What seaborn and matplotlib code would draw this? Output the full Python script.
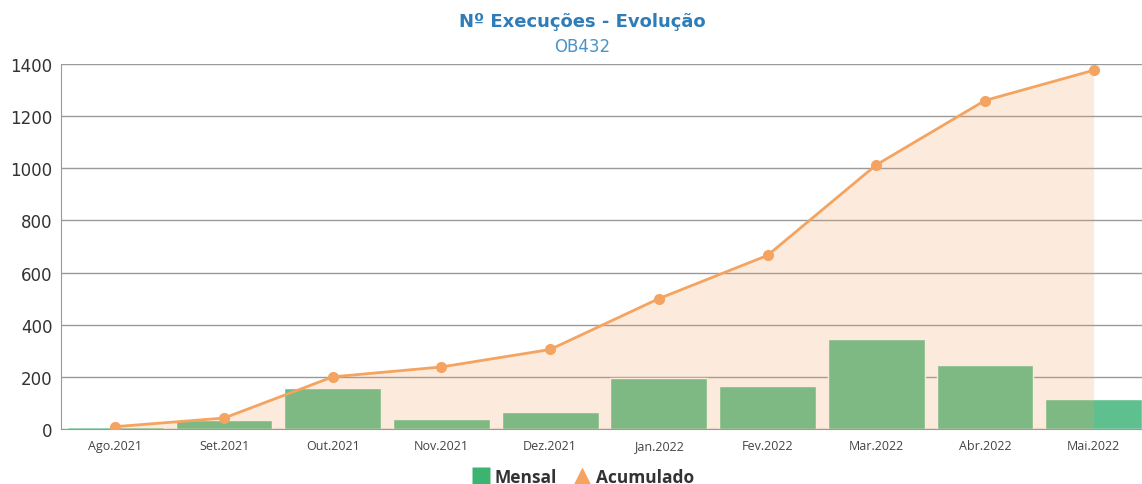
import matplotlib
matplotlib.use("Agg")
import matplotlib.pyplot as plt
from matplotlib.lines import Line2D
import seaborn as sns
import pandas as pd
import numpy as np

# dados
meses = ['Ago.2021', 'Set.2021', 'Out.2021', 'Nov.2021', 'Dez.2021',
         'Jan.2022', 'Fev.2022', 'Mar.2022', 'Abr.2022', 'Mai.2022']
mensal = [9, 33, 158, 38, 67, 195, 166, 347, 247, 116]
acumulado = [9, 42, 200, 238, 305, 500, 666, 1013, 1260, 1376]
y_ticks = [0, 200, 400, 600, 800, 1000, 1200, 1400]

df = pd.DataFrame({'mes': meses, 'mensal': mensal, 'acumulado': acumulado})

sns.set_style("white")
plt.rcParams['font.family'] = ['DejaVu Sans']

verde = '#5ec08f'
laranja = '#f4a460'
cinza = '#999999'

fig = plt.figure(figsize=(11.42, 4.85), dpi=100)
ax = fig.add_axes([61 / 1142, 1 - 430 / 485, 1087 / 1142, 365 / 485])

sns.barplot(data=df, x='mes', y='mensal', color=verde, saturation=1,
            width=0.89, ax=ax, zorder=2)

x = np.arange(len(meses))
ax.fill_between(x, df['acumulado'], 0, color=laranja, alpha=0.22,
                linewidth=0, zorder=3)
ax.plot(x, df['acumulado'], color=laranja, lw=2, marker='o', ms=7,
        zorder=4)

ax.set_xlim(-0.5, len(meses) - 0.5)
ax.set_ylim(0, 1400)
ax.set_yticks(y_ticks)
ax.set_yticklabels([str(v) for v in y_ticks], fontsize=12, color='#333333',
                   family='DejaVu Sans')
ax.set_xticks(x)
ax.set_xticklabels(meses, fontsize=9, color='#444444', family='Open Sans')
ax.set_xlabel('')
ax.set_ylabel('')

ax.yaxis.grid(True, color=cinza, lw=1, zorder=1)
ax.set_axisbelow(True)
for s in ['top', 'right']:
    ax.spines[s].set_visible(False)
ax.spines['left'].set_color(cinza)
ax.spines['bottom'].set_color(cinza)
ax.tick_params(axis='x', length=5, color=cinza, pad=2)
ax.tick_params(axis='y', length=3, color=cinza, pad=3)

fig.text(582 / 1142, 1 - 22 / 485, 'Nº Execuções - Evolução', ha='center',
         va='center', fontsize=13, fontweight='bold', color='#2e7db8')
fig.text(582 / 1142, 1 - 47 / 485, 'OB432', ha='center', va='center',
         fontsize=12, color='#4a93c9')

handles = [
    Line2D([], [], marker='s', color='none', markerfacecolor='#3cb371',
           markeredgecolor='none', markersize=13, label='Mensal'),
    Line2D([], [], marker='^', color='none', markerfacecolor=laranja,
           markeredgecolor='none', markersize=13, label='Acumulado'),
]
leg = fig.legend(handles=handles, loc='center', ncol=2,
                 bbox_to_anchor=(583 / 1142, 1 - 478 / 485), frameon=False,
                 handletextpad=0.3, columnspacing=0.9, handlelength=1.0,
                 prop={'family': 'Open Sans', 'weight': 'bold', 'size': 12.5})
for t in leg.get_texts():
    t.set_color('#333333')

fig.savefig('out.png', dpi=100)
